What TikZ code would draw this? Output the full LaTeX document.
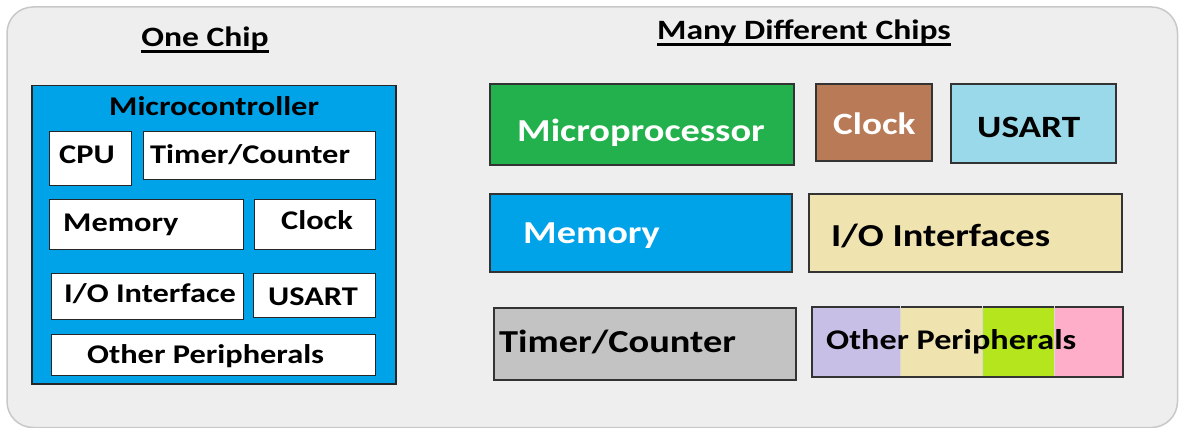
\documentclass[tikz,border=0pt]{standalone}
\usepackage{fontspec}
\newfontfamily\calf[FakeStretch=1.2]{Carlito}
\definecolor{bgfill}{HTML}{EEEEEE}
\definecolor{bgline}{HTML}{C8C8C8}
\definecolor{mcublue}{HTML}{00A2E8}
\definecolor{mpgreen}{HTML}{22B14C}
\definecolor{clkbrown}{HTML}{B97A57}
\definecolor{usartblue}{HTML}{99D9EA}
\definecolor{iocream}{HTML}{EFE4B0}
\definecolor{timergray}{HTML}{C3C3C3}
\definecolor{lav}{HTML}{C8BFE7}
\definecolor{lime}{HTML}{B5E61D}
\definecolor{pinkc}{HTML}{FFAEC9}
\begin{document}
\begin{tikzpicture}[x=1pt,y=-1pt,
  box/.style={draw=black!85, line width=1.3pt, inner sep=0pt, anchor=north west, fill=white},
  rbox/.style={draw=black!80, line width=1.6pt, inner sep=0pt, anchor=north west},
  seg/.style={draw=none, inner sep=0pt, anchor=north west},
  txt/.style={anchor=base west, inner sep=0pt, font=\calf\bfseries\fontsize{27}{30}\selectfont},
  big/.style={anchor=base west, inner sep=0pt, font=\calf\bfseries\fontsize{32}{36}\selectfont},
  ttl/.style={anchor=base, inner sep=0pt, font=\calf\bfseries\fontsize{28}{32}\selectfont},
  uline/.style={line width=2.5pt, black}]
\useasboundingbox (0,0) rectangle (1179,428);
% background
\draw[fill=bgfill, draw=bgline, line width=1.5pt, rounded corners=26pt] (7,7) rectangle (1177.5,427.5);
% titles
\node[ttl] (t1) at (205,47) {One Chip};
\node[ttl] (t2) at (804,40) {Many Different Chips};
\draw[uline] ([yshift=-4.5pt]t1.base west) -- ([yshift=-4.5pt]t1.base east);
\draw[uline] ([yshift=-4.5pt]t2.base west) -- ([yshift=-4.5pt]t2.base east);
% microcontroller
\node[box, fill=mcublue, line width=1.5pt, minimum width=364pt, minimum height=298pt] (mcu) at (31,85) {};
\node[box, minimum width=82pt, minimum height=54pt] (cpu) at (49,131) {};
\node[box, minimum width=232pt, minimum height=48pt] (tim) at (143,131) {};
\node[box, minimum width=194pt, minimum height=50pt] (mem) at (49,199) {};
\node[box, minimum width=121pt, minimum height=50pt] (clk) at (254,199) {};
\node[box, minimum width=192pt, minimum height=46pt] (io) at (51,273) {};
\node[box, minimum width=122pt, minimum height=44pt] (usart) at (253,273) {};
\node[box, minimum width=324pt, minimum height=41pt] (oth) at (51,334) {};
\node[txt] (lmcu) at (109,115) {Microcontroller};
\node[txt] (lcpu) at (59,163) {CPU};
\node[txt] (ltim) at (150,163) {Timer/Counter};
\node[txt] (lmem) at (63,231) {Memory};
\node[txt] (lclk) at (281,229) {Clock};
\node[txt] (lio) at (64,302) {I/O Interface};
\node[txt] (lusart) at (268,305) {USART};
\node[txt] (loth) at (87,363) {Other Peripherals};
% many chips
\node[rbox, fill=mpgreen, minimum width=304pt, minimum height=81pt] (mp) at (489,83) {};
\node[rbox, fill=clkbrown, minimum width=116pt, minimum height=77pt] (rclk) at (815,83) {};
\node[rbox, fill=usartblue, minimum width=165pt, minimum height=79pt] (rusart) at (950,83) {};
\node[rbox, fill=mcublue, minimum width=302pt, minimum height=78pt] (rmem) at (489,193) {};
\node[rbox, fill=iocream, minimum width=313pt, minimum height=78pt] (rio) at (808,193) {};
\node[rbox, fill=timergray, minimum width=302pt, minimum height=72pt] (rtim) at (493,307) {};
\node[seg, fill=lav, minimum width=89pt, minimum height=70pt] (s1) at (811,306) {};
\node[seg, fill=iocream, minimum width=82pt, minimum height=70pt] (s2) at (900,306) {};
\node[seg, fill=lime, minimum width=72pt, minimum height=70pt] (s3) at (982,306) {};
\node[seg, fill=pinkc, minimum width=68pt, minimum height=70pt] (s4) at (1054,306) {};
\node[rbox, minimum width=311pt, minimum height=70pt] (roth) at (811,306) {};
\draw[white!85!black, line width=1pt] (s1.north east) -- (s1.south east);
\draw[white!85!black, line width=1pt] (s2.north east) -- (s2.south east);
\draw[white!85!black, line width=1pt] (s3.north east) -- (s3.south east);
\node[big, text=white] (lmp) at (517,142) {Microprocessor};
\node[big, text=white, font=\calf\bfseries\fontsize{31}{34}\selectfont] (lrclk) at (833,135) {Clock};
\node[big, font=\calf\bfseries\fontsize{31}{34}\selectfont] (lrusart) at (977,137) {USART};
\node[big, text=white] (lrmem) at (523,243) {Memory};
\node[big] (lrio) at (831,246) {I/O Interfaces};
\node[big] (lrtim) at (499,352) {Timer/Counter};
\node[big, font=\calf\bfseries\fontsize{28.5}{32}\selectfont] (lroth) at (826,349) {Other Peripherals};
\end{tikzpicture}
\end{document}
